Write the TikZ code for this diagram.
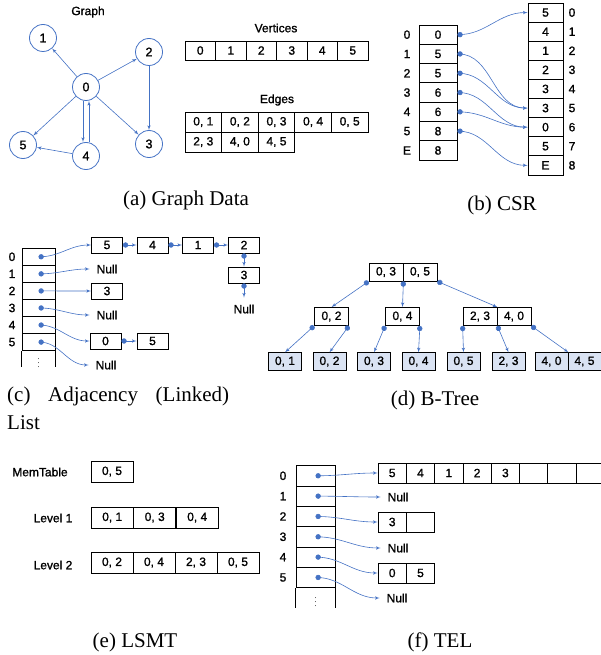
\documentclass[tikz,border=0pt]{standalone}
\usepackage{fontspec}
\setmainfont{Liberation Serif}
\newfontfamily\sanslabel[FakeBold=1.2]{Liberation Sans}
\usepackage{tikz}
\usetikzlibrary{positioning,arrows,calc}
\definecolor{linkblue}{HTML}{4472C4}
\definecolor{leafblue}{HTML}{DAE3F3}
\tikzset{
    >=latex',
    cell/.style = {
        draw,
        shape=rectangle,
        inner sep=0pt,
        line width=0.8pt,
        font=\sanslabel\fontsize{12}{13}\selectfont
    },
    vcell/.style = {cell, minimum width=30.5pt, minimum height=19pt},
    ecell/.style = {cell, minimum width=36.6pt, minimum height=20pt},
    ocell/.style = {cell, minimum width=38pt, minimum height=19.3pt},
    ncell/.style = {cell, minimum width=35pt, minimum height=19.1pt},
    tcell/.style = {cell, minimum width=33pt, minimum height=17.06pt},
    lcell/.style = {cell, minimum width=31pt, minimum height=16pt},
    bcell/.style = {cell, minimum width=34pt, minimum height=18pt},
    leaf/.style = {cell, fill=leafblue, minimum width=33pt, minimum height=17.5pt},
    scell/.style = {cell, minimum width=42pt, minimum height=21pt},
    fcell/.style = {cell, minimum width=39pt, minimum height=20.33pt},
    acell/.style = {cell, minimum width=28.3pt, minimum height=20pt},
    vertex/.style = {
        draw=linkblue,
        shape=circle,
        minimum size=27pt,
        inner sep=0pt,
        line width=0.8pt,
        font=\sanslabel\fontsize{12.5}{13}\selectfont
    },
    tag/.style = {
        inner sep=1pt,
        font=\sanslabel\fontsize{12}{13}\selectfont
    },
    dots/.style = {
        inner sep=0pt,
        font=\fontsize{8}{8}\selectfont
    },
    nulltext/.style = {
        tag,
        inner sep=0pt,
        outer sep=7pt
    },
    caption/.style = {
        inner sep=0pt,
        font=\fontsize{21}{28}\selectfont
    },
    edge/.style = {
        draw=linkblue,
        line width=0.6pt,
        ->
    },
    link/.style = {
        edge,
        *->
    },
}

\begin{document}
\begin{tikzpicture}[x=1pt, y=-1pt]
    \useasboundingbox (0,0) rectangle (600,655);

    % (a) graph data
    \node[tag] (gtitle) at (88, 12) {Graph};
    \node[vertex] (n0) at (86, 87) {0};
    \node[vertex] (n1) at (43, 38) {1};
    \node[vertex] (n2) at (149, 52) {2};
    \node[vertex] (n3) at (149, 144) {3};
    \node[vertex] (n4) at (86, 156) {4};
    \node[vertex] (n5) at (23, 145) {5};
    \foreach \s/\t in {n0/n1, n0/n2, n0/n3, n0/n5, n2/n3, n4/n5}
        \path[edge] (\s) -- (\t);
    \path[edge] ([xshift=-3pt]n0.south) -- ([xshift=-3pt]n4.north);
    \path[edge] ([xshift=3pt]n4.north) -- ([xshift=3pt]n0.south);

    \node[tag] (vtitle) at (276, 28) {Vertices};
    \foreach \v [count=\i from 0] in {0,...,5}
        \node[vcell] (vert\i) at ({200.25+30.5*\i}, 50.5) {\v};

    \node[tag] (etitle) at (277, 100) {Edges};
    \foreach \e [count=\i from 0] in {{0, 1},{0, 2},{0, 3},{0, 4},{0, 5}}
        \node[ecell] (ea\i) at ({203.3+36.6*\i}, 122) {\e};
    \foreach \e [count=\i from 0] in {{2, 3},{4, 0},{4, 5}}
        \node[ecell] (eb\i) at ({203.3+36.6*\i}, 142) {\e};

    \node[caption] (capa) at (186, 200) {(a) Graph Data};

    % (b) CSR
    \foreach \v/\l [count=\i from 0] in {0/0,5/1,5/2,6/3,6/4,8/5,8/E} {
        \node[ocell] (off\i) at (438, {34.65+19.3*\i}) {\v};
        \node[tag] (offl\i) at (407, {34.65+19.3*\i}) {\l};
    }
    \foreach \v [count=\i from 0] in {5,4,1,2,3,3,0,5,E} {
        \node[ncell] (nbr\i) at (545.5, {12.55+19.1*\i}) {\v};
        \node[tag] (nbrl\i) at (572, {12.55+19.1*\i}) {\i};
    }
    \foreach \s/\t in {0/0,1/5,2/5,3/6,4/6,5/8}
        \path[link] (off\s.east) to[out=0,in=180] (nbr\t.west);

    \node[caption] (capb) at (502, 205) {(b) CSR};

    % (c) adjacency list
    \foreach \i in {0,...,5} {
        \node[tcell] (row\i) at (38.5, {256.8+17.06*\i}) {};
        \node[tag] (rowl\i) at (12, {256.8+17.06*\i}) {\i};
    }
    \draw[line width=0.8pt] (row5.south west) -- ++(0,16) (row5.south east) -- ++(0,16);
    \node[dots] (rowdots) at ($(row5.south)+(0,9)$) {$\vdots$};

    \node[lcell] (ch5) at (107, 245) {5};
    \node[lcell] (ch4) at (152.5, 245) {4};
    \node[lcell] (ch1) at (198, 245) {1};
    \node[lcell] (ch2) at (244, 245) {2};
    \node[lcell] (ch3) at (244, 275) {3};
    \node[nulltext] (chnull) at (244, 309) {Null};
    \path[link] (row0.center) to[out=0,in=180] (ch5.west);
    \path[link] (ch5.east) -- (ch4.west);
    \path[link] (ch4.east) -- (ch1.west);
    \path[link] (ch1.east) -- (ch2.west);
    \path[link] (ch2.south) -- (ch3.north);
    \path[link] (ch3.south) -- (chnull.north);

    \node[nulltext] (null1) at (107, 269) {Null};
    \node[lcell] (r2a) at (107, 291) {3};
    \node[nulltext] (null3) at (107, 315) {Null};
    \node[lcell] (r4a) at (105.5, 341) {0};
    \node[lcell] (r4b) at (152.5, 341) {5};
    \node[nulltext] (null5) at (106, 365) {Null};
    \path[link] (row1.center) to[out=0,in=180] (null1.west);
    \path[link] (row2.center) -- (r2a.west);
    \path[link] (row3.center) to[out=0,in=180] (null3.west);
    \path[link] (row4.center) to[out=0,in=180] (r4a.west);
    \path[link] (r4a.east) -- (r4b.west);
    \path[link] (row5.center) to[out=0,in=180] (null5.west);

    \node[caption, text width=222pt, align=left, anchor=north west] (capc) at (7, 387)
        {(c)\hfill Adjacency\hfill (Linked)\\List};

    % (d) B-tree
    \node[bcell] (bt1) at (386, 272) {0, 3};
    \node[bcell] (bt2) at (420, 272) {0, 5};
    \node[bcell] (bm1) at (331.5, 316.5) {0, 2};
    \node[bcell] (bm2) at (402.5, 316.5) {0, 4};
    \node[bcell] (bm3) at (480, 316.5) {2, 3};
    \node[bcell] (bm4) at (514, 316.5) {4, 0};
    \foreach \v/\x [count=\i] in {{0, 1}/285,{0, 2}/329.5,{0, 3}/374,{0, 4}/418.5,
                                  {0, 5}/463.5,{2, 3}/508.5,{4, 0}/551.5,{4, 5}/584.5}
        \node[leaf] (bl\i) at (\x, 361.5) {\v};

    \path[link] (bt1.south west) -- (bm1.north);
    \path[link] (bt1.south east) -- (bm2.north);
    \path[link] (bt2.south east) -- (bm3.north east);
    \path[link] (bm1.south west) -- (bl1.north);
    \path[link] (bm1.south east) -- (bl2.north);
    \path[link] (bm2.south west) -- (bl3.north);
    \path[link] (bm2.south east) -- (bl4.north);
    \path[link] (bm3.south west) -- (bl5.north);
    \path[link] (bm3.south east) -- (bl6.north);
    \path[link] (bm4.south east) -- (bl7.north east);

    \node[caption] (capd) at (435, 400) {(d) B-Tree};

    % (e) LSMT
    \node[tag] (memlabel) at (40, 472) {MemTable};
    \node[scell] (mem0) at (112, 471.5) {0, 5};
    \node[tag] (lvonelabel) at (53, 518) {Level 1};
    \foreach \e [count=\i from 0] in {{0, 1},{0, 3},{0, 4}}
        \node[scell] (lvone\i) at ({112.25+42.5*\i}, 517.5) {\e};
    \node[tag] (lvtwolabel) at (53, 565) {Level 2};
    \foreach \e [count=\i from 0] in {{0, 2},{0, 4},{2, 3},{0, 5}}
        \node[scell] (lvtwo\i) at ({112+42*\i}, 562.5) {\e};

    \node[caption] (cape) at (135, 642) {(e) LSMT};

    % (f) TEL
    \foreach \i in {0,...,5} {
        \node[fcell] (trow\i) at (315.5, {475.8+20.33*\i}) {};
        \node[tag] (trowl\i) at (283, {475.8+20.33*\i}) {\i};
    }
    \draw[line width=0.8pt] (trow5.south west) -- ++(0,20) (trow5.south east) -- ++(0,20);
    \node[dots] (trowdots) at ($(trow5.south)+(0,11)$) {$\vdots$};
    \foreach \v [count=\i from 0] in {5,4,1,2,3}
        \node[acell] (blk\i) at ({392.2+28.3*\i}, 473) {\v};
    \foreach \i in {5,6,7}
        \node[acell] (blk\i) at ({392.2+28.3*\i}, 473) {};

    \node[nulltext] (tnull1) at (398, 497) {Null};
    \node[acell] (tb2a) at (392.2, 522) {3};
    \node[acell] (tb2b) at (420.5, 522) {};
    \node[nulltext] (tnull3) at (398, 548) {Null};
    \node[acell] (tb4a) at (392.2, 573) {0};
    \node[acell] (tb4b) at (420.5, 573) {5};
    \node[nulltext] (tnull5) at (397, 598) {Null};
    \path[link] (trow0.center) to[out=0,in=180] (blk0.west);
    \path[link] (trow1.center) to[out=0,in=180] (tnull1.west);
    \path[link] (trow2.center) to[out=0,in=180] (tb2a.west);
    \path[link] (trow3.center) to[out=0,in=180] (tnull3.west);
    \path[link] (trow4.center) to[out=0,in=180] (tb4a.west);
    \path[link] (trow5.center) to[out=0,in=180] (tnull5.west);

    \node[caption] (capf) at (440, 642) {(f) TEL};
\end{tikzpicture}
\end{document}
